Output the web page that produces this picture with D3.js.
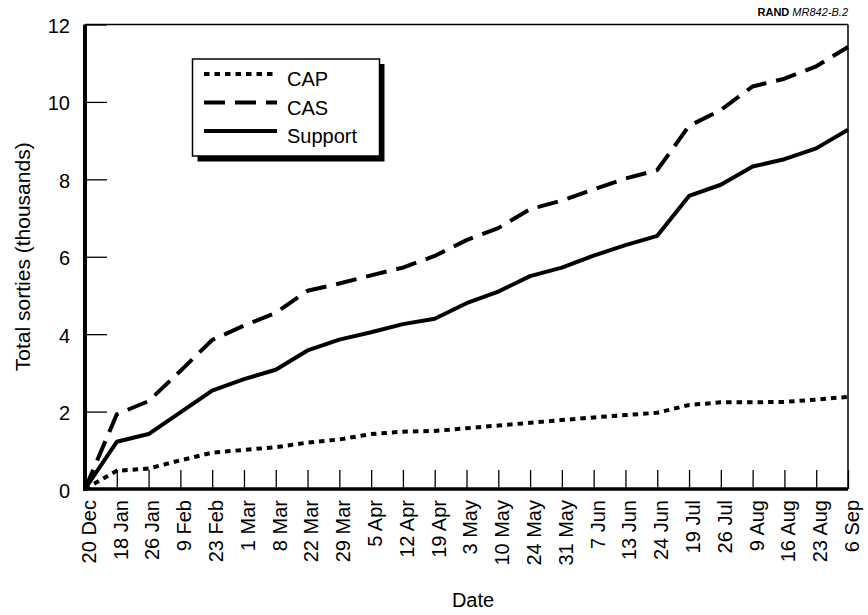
<!DOCTYPE html>
<html>
<head>
<meta charset="utf-8">
<script src="https://cdn.jsdelivr.net/npm/d3@7/dist/d3.min.js"></script>
<style>
  html, body { margin: 0; padding: 0; background: #fff; }
  svg { display: block; font-family: "Liberation Sans", Arial, Helvetica, sans-serif; }
</style>
</head>
<body>
<svg id="chart" width="868" height="615"></svg>
<script>
const dates = ["20 Dec","18 Jan","26 Jan","9 Feb","23 Feb","1 Mar","8 Mar","22 Mar","29 Mar","5 Apr","12 Apr","19 Apr","3 May","10 May","24 May","31 May","7 Jun","13 Jun","24 Jun","19 Jul","26 Jul","9 Aug","16 Aug","23 Aug","6 Sep"];
const capValues = [0, 0.47, 0.53, 0.74, 0.94, 1.01, 1.08, 1.20, 1.28, 1.42, 1.48, 1.50, 1.57, 1.64, 1.71, 1.78, 1.85, 1.91, 1.97, 2.17, 2.24, 2.24, 2.25, 2.31, 2.38];
const casValues = [0, 1.93, 2.27, 3.05, 3.85, 4.22, 4.55, 5.12, 5.31, 5.52, 5.72, 6.02, 6.43, 6.74, 7.23, 7.45, 7.74, 8.02, 8.24, 9.38, 9.79, 10.40, 10.60, 10.92, 11.42];
const supportValues = [0, 1.22, 1.42, 1.98, 2.54, 2.84, 3.08, 3.58, 3.86, 4.05, 4.26, 4.40, 4.80, 5.10, 5.50, 5.72, 6.03, 6.30, 6.54, 7.57, 7.86, 8.33, 8.52, 8.80, 9.28];
const yTicks = [0, 2, 4, 6, 8, 10, 12];
const seriesNames = ["CAP", "CAS", "Support"];

const series = [
  { name: seriesNames[0], values: capValues, dash: "5.5,5" },
  { name: seriesNames[1], values: casValues, dash: "21,10" },
  { name: seriesNames[2], values: supportValues, dash: null }
];

const svg = d3.select("#chart");
const plotL = 85, plotR = 848, plotT = 24.5, plotB = 489;

const x = d3.scalePoint().domain(dates).range([plotL, plotR]);
const y = d3.scaleLinear().domain([0, 12]).range([plotB, plotT]);

// frame: thin top/right
svg.append("line").attr("x1", plotL).attr("x2", plotR).attr("y1", plotT).attr("y2", plotT)
  .attr("stroke", "#000").attr("stroke-width", 1.5);
svg.append("line").attr("x1", plotR).attr("x2", plotR).attr("y1", plotT).attr("y2", plotB)
  .attr("stroke", "#000").attr("stroke-width", 1.5);

// x axis (ticks inward)
const xAxis = d3.axisBottom(x).tickSizeInner(-19).tickSizeOuter(0).tickPadding(0);
const gx = svg.append("g").attr("transform", `translate(0,${plotB})`).call(xAxis);
gx.select(".domain").remove();
gx.selectAll(".tick line").attr("stroke", "#000").attr("stroke-width", 1.3);
gx.selectAll(".tick text")
  .attr("transform", "rotate(-90)")
  .attr("text-anchor", "end")
  .attr("x", -11)
  .attr("y", 0)
  .attr("dy", "0.52em")
  .attr("fill", "#000")
  .style("font-size", "20px");

// y axis (ticks inward)
const yAxis = d3.axisLeft(y).tickValues(yTicks).tickSizeInner(-22).tickSizeOuter(0).tickPadding(15);
const gy = svg.append("g").attr("transform", `translate(${plotL},0)`).call(yAxis);
gy.select(".domain").remove();
gy.selectAll(".tick line").attr("stroke", "#000").attr("stroke-width", 1.3);
gy.selectAll(".tick text").attr("fill", "#000").attr("dy", "0.4em").style("font-size", "20px");

// thick left/bottom axis lines
svg.append("line").attr("x1", plotL).attr("x2", plotL).attr("y1", plotT).attr("y2", plotB + 2)
  .attr("stroke", "#000").attr("stroke-width", 4);
svg.append("line").attr("x1", plotL).attr("x2", plotR).attr("y1", plotB).attr("y2", plotB)
  .attr("stroke", "#000").attr("stroke-width", 3.5);

// lines
const line = d3.line().x((d, i) => x(dates[i])).y(d => y(d));
series.forEach(s => {
  svg.append("path")
    .datum(s.values)
    .attr("d", line)
    .attr("fill", "none")
    .attr("stroke", "#000")
    .attr("stroke-width", 4)
    .attr("stroke-linejoin", "round")
    .attr("stroke-dasharray", s.dash);
});

// legend
const lg = svg.append("g");
lg.append("rect").attr("x", 197.5).attr("y", 64).attr("width", 187).attr("height", 97.5).attr("fill", "#000");
lg.append("rect").attr("x", 192.5).attr("y", 59).attr("width", 187).attr("height", 97).attr("fill", "#fff")
  .attr("stroke", "#000").attr("stroke-width", 1.5);
const legendY = [74, 102.5, 131];
series.forEach((s, i) => {
  lg.append("line").attr("x1", 204).attr("x2", 277).attr("y1", legendY[i]).attr("y2", legendY[i])
    .attr("stroke", "#000").attr("stroke-width", 4).attr("stroke-dasharray", s.dash);
  lg.append("text").attr("x", 287).attr("y", legendY[i] + 12)
    .style("font-size", "20px").attr("fill", "#000").text(s.name);
});

// axis titles
svg.append("text").attr("x", 473).attr("y", 607).attr("text-anchor", "middle")
  .style("font-size", "20px").attr("fill", "#000").text("Date");
svg.append("text").attr("transform", `translate(30,${(plotT + plotB) / 2}) rotate(-90)`)
  .attr("text-anchor", "middle").style("font-size", "21px").attr("fill", "#000")
  .text("Total sorties (thousands)");

// source tag
const tag = svg.append("text").attr("x", plotR).attr("y", 16).attr("text-anchor", "end")
  .style("font-size", "11px").attr("fill", "#000");
tag.append("tspan").style("font-weight", "bold").text("RAND ");
tag.append("tspan").style("font-style", "italic").text("MR842-B.2");
</script>
</body>
</html>
